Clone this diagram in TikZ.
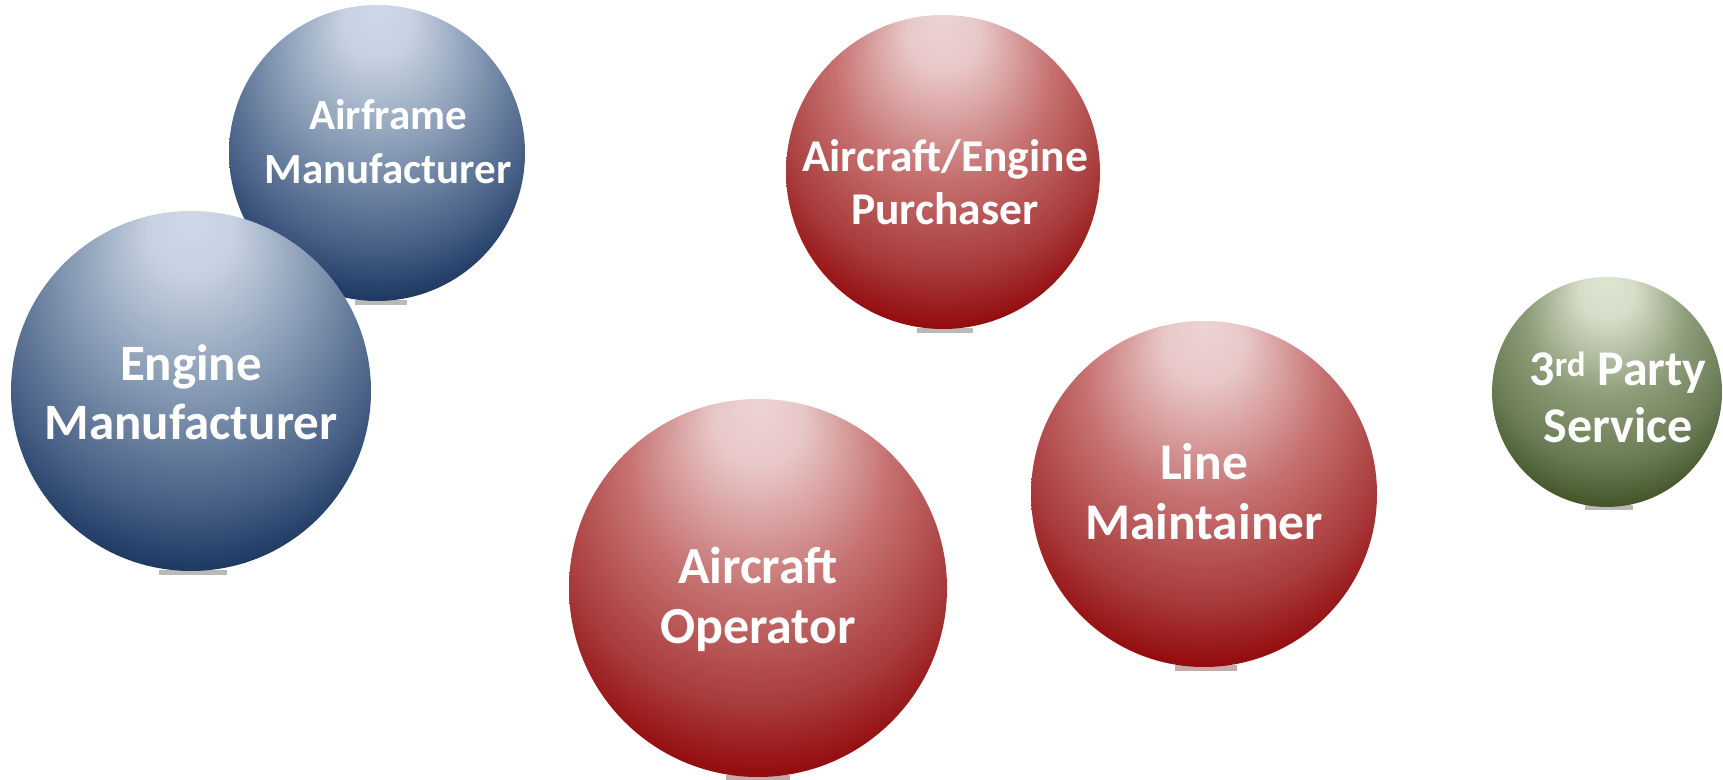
\documentclass[tikz,border=0pt]{standalone}
\usepackage{fontspec}
\setmainfont{Carlito}
\pgfdeclareradialshading{blueball}{\pgfpoint{0bp}{25bp}}{rgb(0bp)=(0.81,0.85,0.91); rgb(6bp)=(0.78,0.82,0.88); rgb(17bp)=(0.52,0.60,0.70); rgb(27bp)=(0.29,0.38,0.53); rgb(33bp)=(0.12,0.23,0.39); rgb(50bp)=(0.12,0.23,0.39)}
\pgfdeclareradialshading{redball}{\pgfpoint{0bp}{25bp}}{rgb(0bp)=(0.93,0.83,0.83); rgb(6bp)=(0.91,0.78,0.78); rgb(17bp)=(0.78,0.45,0.45); rgb(27bp)=(0.66,0.23,0.23); rgb(33bp)=(0.58,0.05,0.06); rgb(50bp)=(0.58,0.05,0.06)}
\pgfdeclareradialshading{greenball}{\pgfpoint{0bp}{25bp}}{rgb(0bp)=(0.87,0.90,0.82); rgb(6bp)=(0.84,0.87,0.79); rgb(17bp)=(0.56,0.62,0.48); rgb(27bp)=(0.41,0.48,0.33); rgb(33bp)=(0.27,0.34,0.16); rgb(50bp)=(0.27,0.34,0.16)}
\tikzset{
  ball/.style={circle, inner sep=0pt, minimum size=#1},
  lbl/.style={text=white, align=center, inner sep=0pt},
  fsz/.style 2 args={font=\bfseries\fontsize{#1}{#2}\selectfont},
  shadowbar/.style={fill=gray, opacity=0.55, inner sep=0pt, minimum height=5pt, rectangle}
}
\begin{document}
\begin{tikzpicture}[x=1pt,y=1pt]
\useasboundingbox (0,0) rectangle (1723,779);
% shadow bars
\node[shadowbar, minimum width=52pt] (sa) at (381,476) {};
\node[shadowbar, minimum width=68pt] (se) at (193,206) {};
\node[shadowbar, minimum width=56pt] (sp) at (945,448) {};
\node[shadowbar, minimum width=64pt, fill=gray!80!red] (so) at (758,2) {};
\node[shadowbar, minimum width=62pt, fill=gray!80!red] (sl) at (1206,111) {};
\node[shadowbar, minimum width=48pt] (st) at (1609,271) {};
% balls
\node[ball=296pt, shading=blueball] (airframe) at (377,626) {};
\node[ball=360pt, shading=blueball] (engine) at (191,388) {};
\node[ball=314pt, shading=redball] (purchaser) at (943,607) {};
\node[ball=378pt, shading=redball] (operator) at (758,191) {};
\node[ball=346pt, shading=redball] (line) at (1204,285) {};
\node[ball=230pt, shading=greenball] (third) at (1607,387) {};
% labels
\node[lbl, fsz={43}{54}] (tairframe) at ([shift={(11,11)}]airframe.center) {Airframe\\Manufacturer};
\node[lbl, fsz={51}{59}] (tengine) at ([shift={(0,-1)}]engine.center) {Engine\\Manufacturer};
\node[lbl, fsz={45.5}{53}] (tpurchaser) at ([shift={(2,-10)}]purchaser.center) {Aircraft/Engine\\Purchaser};
\node[lbl, fsz={52}{60}] (toperator) at ([shift={(0,-11)}]operator.center) {Aircraft\\Operator};
\node[lbl, fsz={51.5}{60}] (tline) at ([shift={(0,2)}]line.center) {Line\\Maintainer};
\node[lbl, fsz={50}{57}] (tthird) at ([shift={(11,-5)}]third.center) {3\textsuperscript{rd} Party\\Service};
\end{tikzpicture}
\end{document}
